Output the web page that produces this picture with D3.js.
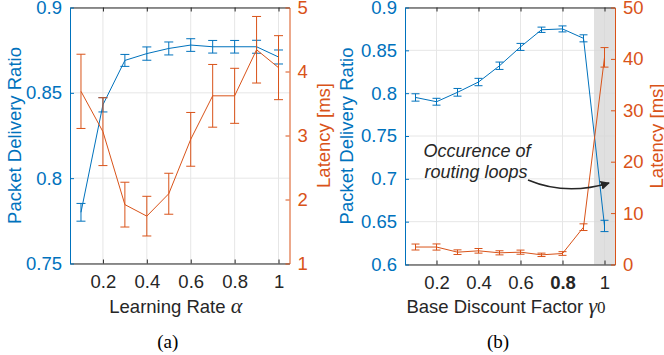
<!DOCTYPE html>
<html>
<head>
<meta charset="utf-8">
<script src="https://cdn.jsdelivr.net/npm/d3@7"></script>
<style>
  body { margin: 0; background: #fff; }
  svg { display: block; font-family: "Liberation Sans", Arial, sans-serif; }
</style>
</head>
<body>
<svg id="chart" width="664" height="355"></svg>
<script>
// x values shared by both panels
const xVals = [0.1, 0.2, 0.3, 0.4, 0.5, 0.6, 0.7, 0.8, 0.9, 1.0];

// panel (a): learning rate
const pdrA = [0.780, 0.843, 0.869, 0.873, 0.876, 0.878, 0.877, 0.877, 0.877, 0.871];
const pdrAErr = [0.0052, 0.0042, 0.0035, 0.0039, 0.0038, 0.0037, 0.0037, 0.0037, 0.0038, 0.0041];
const latA = [3.69, 3.06, 1.92, 1.74, 2.09, 2.94, 3.62, 3.62, 4.34, 4.06];
const latAErr = [0.58, 0.53, 0.35, 0.31, 0.32, 0.42, 0.49, 0.43, 0.52, 0.50];

// panel (b): base discount factor
const pdrB = [0.795, 0.790, 0.801, 0.813, 0.832, 0.854, 0.874, 0.875, 0.864, 0.645];
const pdrBErr = [0.0043, 0.004, 0.0045, 0.0043, 0.0043, 0.0041, 0.0031, 0.0035, 0.0041, 0.0066];
const latB = [3.4, 3.4, 2.4, 2.66, 2.27, 2.4, 1.88, 2.14, 7.26, 40.3];
const latBErr = [0.58, 0.6, 0.45, 0.45, 0.4, 0.4, 0.33, 0.36, 0.65, 1.9];

const xTicks = [0.2, 0.4, 0.6, 0.8, 1];
const pdrTicksA = [0.75, 0.8, 0.85, 0.9];
const latTicksA = [1, 2, 3, 4, 5];
const pdrTicksB = [0.6, 0.65, 0.7, 0.75, 0.8, 0.85, 0.9];
const latTicksB = [0, 10, 20, 30, 40, 50];
const loopRegion = [0.95, 1.05];

const blue = '#0072BD';
const orange = '#D95319';
const dark = '#262626';
const grid = '#e6e6e6';
const fs = 18.5;

const svg = d3.select('#chart');

function panel(opt) {
  const x = d3.scaleLinear().domain([0.05, 1.05]).range([opt.left, opt.right]);
  const yl = d3.scaleLinear().domain(opt.pdrDomain).range([opt.bottom, opt.top]);
  const yr = d3.scaleLinear().domain(opt.latDomain).range([opt.bottom, opt.top]);
  const g = svg.append('g');

  // grid
  g.append('g').selectAll('line').data(xTicks).join('line')
    .attr('x1', d => x(d)).attr('x2', d => x(d))
    .attr('y1', opt.top).attr('y2', opt.bottom)
    .attr('stroke', grid).attr('stroke-width', 1);
  g.append('g').selectAll('line').data(opt.pdrTicks).join('line')
    .attr('x1', opt.left).attr('x2', opt.right)
    .attr('y1', d => yl(d)).attr('y2', d => yl(d))
    .attr('stroke', grid).attr('stroke-width', 1);

  if (opt.shade) {
    g.append('rect')
      .attr('x', x(opt.shade[0])).attr('width', x(opt.shade[1]) - x(opt.shade[0]))
      .attr('y', opt.top).attr('height', opt.bottom - opt.top)
      .attr('fill', '#d6d6d6').attr('opacity', 0.75);
  }

  // series
  function series(vals, errs, y, color, cap) {
    const pts = xVals.map((d, i) => ({x: d, v: vals[i], e: errs[i]}));
    g.append('path').datum(pts)
      .attr('fill', 'none').attr('stroke', color).attr('stroke-width', 1)
      .attr('d', d3.line().x(d => x(d.x)).y(d => y(d.v)));
    const eb = g.append('g').attr('stroke', color).attr('stroke-width', 1);
    eb.selectAll('.v').data(pts).join('line')
      .attr('x1', d => x(d.x)).attr('x2', d => x(d.x))
      .attr('y1', d => y(d.v - d.e)).attr('y2', d => y(d.v + d.e));
    eb.selectAll('.t').data(pts).join('line')
      .attr('x1', d => x(d.x) - cap).attr('x2', d => x(d.x) + cap)
      .attr('y1', d => y(d.v + d.e)).attr('y2', d => y(d.v + d.e));
    eb.selectAll('.b').data(pts).join('line')
      .attr('x1', d => x(d.x) - cap).attr('x2', d => x(d.x) + cap)
      .attr('y1', d => y(d.v - d.e)).attr('y2', d => y(d.v - d.e));
  }
  series(opt.pdr, opt.pdrErr, yl, blue, opt.cap);
  series(opt.lat, opt.latErr, yr, orange, opt.cap);

  // axes
  const ax = g.append('g').attr('transform', `translate(0,${opt.bottom})`)
    .call(d3.axisBottom(x).tickValues(xTicks).tickFormat(d3.format('~g')).tickSizeInner(-4).tickSizeOuter(0).tickPadding(11));
  ax.select('.domain').attr('stroke', dark);
  ax.selectAll('line').attr('stroke', dark);
  ax.selectAll('text').attr('fill', dark).style('font-size', fs + 'px')
    .style('font-weight', d => (opt.boldTick === d ? 'bold' : 'normal'));

  const top = g.append('g').attr('transform', `translate(0,${opt.top})`)
    .call(d3.axisTop(x).tickValues(xTicks).tickFormat('').tickSizeInner(-4).tickSizeOuter(0));
  top.select('.domain').attr('stroke', dark);
  top.selectAll('line').attr('stroke', dark);

  const al = g.append('g').attr('transform', `translate(${opt.left},0)`)
    .call(d3.axisLeft(yl).tickValues(opt.pdrTicks).tickFormat(d3.format('~g')).tickSizeInner(-4).tickSizeOuter(0).tickPadding(8));
  al.selectAll('path,line').attr('stroke', blue);
  al.selectAll('text').attr('fill', blue).style('font-size', fs + 'px');

  const ar = g.append('g').attr('transform', `translate(${opt.right},0)`)
    .call(d3.axisRight(yr).tickValues(opt.latTicks).tickFormat(d3.format('~g')).tickSizeInner(-4).tickSizeOuter(0).tickPadding(8));
  ar.selectAll('path,line').attr('stroke', orange);
  ar.selectAll('text').attr('fill', orange).style('font-size', fs + 'px');

  g.selectAll('.domain').attr('stroke-width', 1);

  // labels
  const midY = (opt.top + opt.bottom) / 2;
  g.append('text').attr('transform', `translate(${opt.pdrLabelX},${midY}) rotate(-90)`)
    .attr('text-anchor', 'middle').attr('dominant-baseline', 'central')
    .attr('fill', blue).style('font-size', fs + 'px').text('Packet Delivery Ratio');
  g.append('text').attr('transform', `translate(${opt.latLabelX},${midY}) rotate(-90)`)
    .attr('text-anchor', 'middle').attr('dominant-baseline', 'central')
    .attr('fill', orange).style('font-size', fs + 'px').text('Latency [ms]');

  const xl = g.append('text').attr('x', (opt.left + opt.right) / 2 - 4).attr('y', 313)
    .attr('text-anchor', 'middle').attr('fill', dark).style('font-size', fs + 'px');
  xl.append('tspan').text(opt.xLabel + ' ');
  xl.append('tspan').style('font-family', '"Liberation Serif", "Times New Roman", serif')
    .style('font-style', 'italic').style('font-size', '22px').text(opt.sym);
  if (opt.sub) {
    xl.append('tspan').style('font-family', '"Liberation Serif", "Times New Roman", serif')
      .style('font-size', '17px').text(opt.sub);
  }

  g.append('text').attr('x', (opt.left + opt.right) / 2 - 12).attr('y', 348)
    .attr('text-anchor', 'middle').attr('fill', '#000')
    .style('font-family', '"Liberation Serif", "Times New Roman", serif').style('font-size', '19px')
    .text(opt.caption);

  return {x, yl, yr, g};
}

panel({
  left: 70, right: 289.5, top: 7.5, bottom: 263.5,
  pdrDomain: [0.75, 0.9], latDomain: [1, 5],
  pdrTicks: pdrTicksA, latTicks: latTicksA,
  pdr: pdrA, pdrErr: pdrAErr, lat: latA, latErr: latAErr,
  cap: 4.5, pdrLabelX: 14, latLabelX: 323,
  xLabel: 'Learning Rate', sym: 'α', caption: '(a)'
});

const pb = panel({
  left: 405, right: 615, top: 7.5, bottom: 264.5,
  pdrDomain: [0.6, 0.9], latDomain: [0, 50],
  pdrTicks: pdrTicksB, latTicks: latTicksB,
  pdr: pdrB, pdrErr: pdrBErr, lat: latB, latErr: latBErr,
  cap: 4, pdrLabelX: 346, latLabelX: 656, shade: loopRegion, boldTick: 0.8,
  xLabel: 'Base Discount Factor', sym: 'γ', sub: '0', caption: '(b)'
});

// annotation
const ann = pb.g.append('text').attr('text-anchor', 'middle').attr('fill', dark)
  .style('font-style', 'italic').style('font-size', '18px');
ann.append('tspan').attr('x', 477).attr('y', 157).text('Occurence of');
ann.append('tspan').attr('x', 476).attr('y', 178).text('routing loops');

svg.append('defs').append('marker').attr('id', 'ah')
  .attr('viewBox', '0 0 10 10').attr('refX', 9).attr('refY', 5)
  .attr('markerWidth', 9).attr('markerHeight', 9).attr('markerUnits', 'userSpaceOnUse')
  .attr('orient', 'auto')
  .append('path').attr('d', 'M0,0 L10,5 L0,10 Z').attr('fill', dark);
pb.g.append('path').attr('d', 'M528,180 Q566,196 609,183')
  .attr('fill', 'none').attr('stroke', dark).attr('stroke-width', 1.5)
  .attr('marker-end', 'url(#ah)');
</script>
</body>
</html>
